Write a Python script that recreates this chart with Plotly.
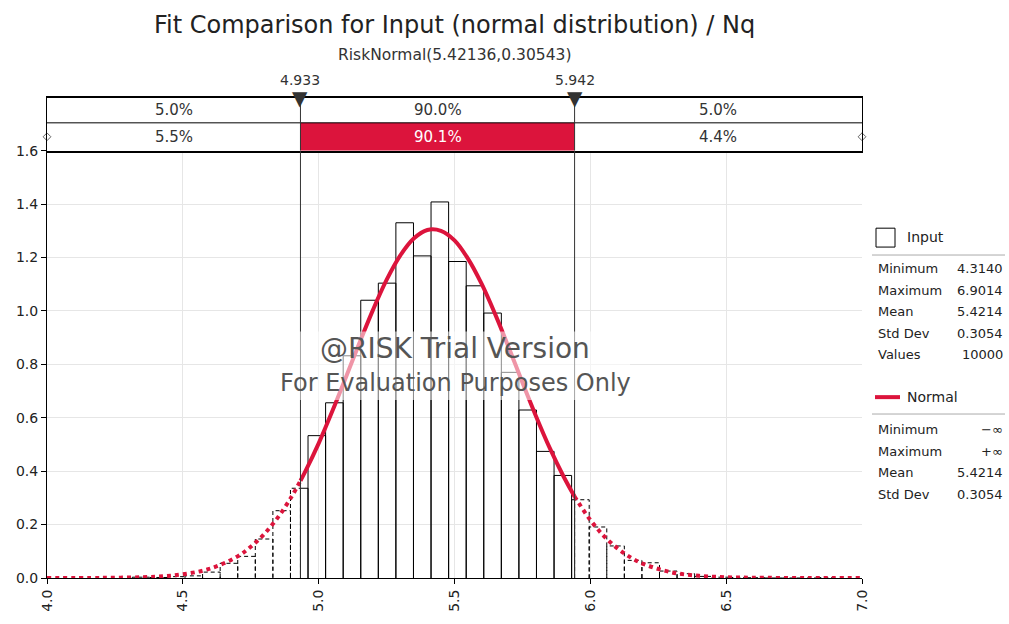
import numpy as np
import plotly.graph_objects as go

# ---------------- data ----------------
TITLE = "Fit Comparison for Input (normal distribution) / Nq"
SUBTITLE = "RiskNormal(5.42136,0.30543)"

HIST_MIN = 4.3140
HIST_MAX = 6.9014
# histogram densities (40 equal-width bins between HIST_MIN and HIST_MAX)
density = [0.003, 0.002, 0.005, 0.008, 0.022, 0.055, 0.081, 0.146, 0.252, 0.336,
           0.533, 0.656, 0.832, 1.040, 1.104, 1.330, 1.206, 1.408, 1.185, 1.094,
           0.992, 0.770, 0.629, 0.474, 0.384, 0.293, 0.191, 0.120, 0.066, 0.057,
           0.026, 0.016, 0.006, 0.003, 0.002, 0.001, 0.0, 0.0, 0.0, 0.0015]

# fitted normal curve
curve_x = [4.0, 4.2, 4.4, 4.5, 4.6, 4.7, 4.75, 4.8, 4.85, 4.9,
           4.933, 4.95, 5.0, 5.05, 5.1, 5.15, 5.2, 5.25, 5.3, 5.35,
           5.4, 5.45, 5.5, 5.55, 5.6, 5.65, 5.7, 5.75, 5.8, 5.85,
           5.9, 5.942, 5.95, 6.0, 6.05, 6.1, 6.15, 6.2, 6.3, 6.4,
           6.5, 6.6, 6.8, 7.0]
curve_y = [0.000, 0.0004, 0.005, 0.014, 0.035, 0.080, 0.117, 0.165, 0.227, 0.304,
           0.364, 0.397, 0.504, 0.624, 0.751, 0.880, 1.004, 1.116, 1.207, 1.271,
           1.303, 1.300, 1.264, 1.195, 1.101, 0.987, 0.862, 0.732, 0.606, 0.488,
           0.383, 0.305, 0.292, 0.217, 0.157, 0.111, 0.076, 0.051, 0.021, 0.008,
           0.003, 0.001, 0.0001, 0.000]

cutoffs = [4.933, 5.942]
theo_pct = [5.0, 90.0, 5.0]
input_pct = [5.5, 90.1, 4.4]

x_ticks = [4.0, 4.5, 5.0, 5.5, 6.0, 6.5, 7.0]
y_ticks = [0.0, 0.2, 0.4, 0.6, 0.8, 1.0, 1.2, 1.4, 1.6]

input_stats = [("Minimum", "4.3140"), ("Maximum", "6.9014"), ("Mean", "5.4214"),
               ("Std Dev", "0.3054"), ("Values", "10000")]
normal_stats = [("Minimum", "\u2212\u221e"), ("Maximum", "+\u221e"),
                ("Mean", "5.4214"), ("Std Dev", "0.3054")]

# ---------------- styling / layout helpers ----------------
FONT = "'DejaVu Sans', sans-serif"
RED = "#DC143C"
W, H = 1009, 624
L, R_EDGE, TOP, BOT = 47, 862, 98, 581
BAND_BOTTOM = 151
MAIN_TOP_FRAC = (BOT - BAND_BOTTOM) / (BOT - TOP)
BAND_H = BAND_BOTTOM - TOP
ROW_SPLIT = BAND_BOTTOM - 123


def px(x):
    return (x - L) / (R_EDGE - L)


def py(y):
    return (BOT - y) / (BOT - TOP)


fig = go.Figure()

# ---------------- histogram outlines ----------------
edges = np.linspace(HIST_MIN, HIST_MAX, len(density) + 1)
lo, hi = cutoffs
sx, sy, dx, dy = [], [], [], []
for i, h in enumerate(density):
    a, b = edges[i], edges[i + 1]
    pts = [a] + [c for c in cutoffs if a < c < b] + [b]
    for p, q in zip(pts[:-1], pts[1:]):
        inside = p >= lo - 1e-9 and q <= hi + 1e-9
        tx, ty = (sx, sy) if inside else (dx, dy)
        tx += [p, p, q, q, None]
        ty += [0, h, h, 0, None]

fig.add_trace(go.Scatter(x=dx, y=dy, mode="lines", hoverinfo="skip",
                         line=dict(color="black", width=1, dash="4px,3px"),
                         showlegend=False))
fig.add_trace(go.Scatter(x=sx, y=sy, mode="lines", hoverinfo="skip",
                         line=dict(color="black", width=1),
                         showlegend=False))

# ---------------- normal curve ----------------
cx = np.array(curve_x)
cy = np.array(curve_y)
m_left = cx <= lo + 1e-9
m_mid = (cx >= lo - 1e-9) & (cx <= hi + 1e-9)
m_right = cx >= hi - 1e-9
for m, dash in [(m_left, "dot"), (m_right, "dot"), (m_mid, "solid")]:
    fig.add_trace(go.Scatter(x=cx[m], y=cy[m], mode="lines", line_shape="spline",
                             line=dict(color=RED, width=4, dash=dash),
                             hoverinfo="skip", showlegend=False))

# ---------------- band (percentile bars) ----------------
fig.add_trace(go.Scatter(x=[x_ticks[0], x_ticks[-1]], y=[ROW_SPLIT / 2] * 2, mode="markers",
                         marker=dict(symbol="diamond-open", size=6, color="#666",
                                     line=dict(width=1)),
                         xaxis="x2", yaxis="y2", cliponaxis=False,
                         hoverinfo="skip", showlegend=False))

shapes = []
shapes.append(dict(type="rect", xref="x2", yref="y2", x0=lo, x1=hi, y0=0, y1=ROW_SPLIT,
                   fillcolor=RED, line=dict(width=0), layer="below"))
shapes.append(dict(type="line", xref="x2", yref="y2", x0=x_ticks[0], x1=x_ticks[-1],
                   y0=ROW_SPLIT, y1=ROW_SPLIT, line=dict(color="black", width=1)))
for c in cutoffs:
    shapes.append(dict(type="line", xref="x2", yref="y2", x0=c, x1=c, y0=0, y1=BAND_H,
                       line=dict(color="#333", width=1)))
    shapes.append(dict(type="line", xref="x", yref="y", x0=c, x1=c, y0=0, y1=1.6,
                       line=dict(color="#333", width=1)))


def ann(x, y, text, size, color="#222", xanchor="center", xref="paper", yref="paper",
        yanchor="middle"):
    return dict(x=x, y=y, xref=xref, yref=yref, text=text, showarrow=False,
                xanchor=xanchor, yanchor=yanchor,
                font=dict(family=FONT, size=size, color=color))


annotations = []
regions = [(x_ticks[0], lo), (lo, hi), (hi, x_ticks[-1])]
for (a, b), tp, ip, k in zip(regions, theo_pct, input_pct, range(3)):
    mid = (a + b) / 2
    annotations.append(ann(mid, (ROW_SPLIT + BAND_H) / 2, f"{tp:.1f}%", 15, "#333",
                           xref="x2", yref="y2"))
    annotations.append(ann(mid, ROW_SPLIT / 2, f"{ip:.1f}%", 15,
                           "white" if k == 1 else "#333", xref="x2", yref="y2"))
for c in cutoffs:
    # cutoff value label and downward marker above the band
    annotations.append(ann(c, py(80), f"{c:.3f}", 14, "#333", xref="x2"))
    annotations.append(ann(c, py(98), "\u25BC", 20, "#333", xref="x2"))

# title & subtitle
annotations.append(ann(0.5, py(25), TITLE, 24))
annotations.append(ann(0.5, py(55), SUBTITLE, 15.5, "#333"))

# watermark
shapes.append(dict(type="rect", xref="paper", yref="paper", x0=px(280), x1=px(630),
                   y0=py(402), y1=py(333), fillcolor="rgba(255,255,255,0.55)",
                   line=dict(width=0), layer="above"))
annotations.append(ann(px(455), py(350), "@RISK Trial Version", 28, "#555"))
annotations.append(ann(px(455), py(385), "For Evaluation Purposes Only", 24, "#555"))

# legend panel
shapes.append(dict(type="rect", xref="paper", yref="paper", x0=px(876), x1=px(895),
                   y0=py(248), y1=py(229), line=dict(color="black", width=1)))
annotations.append(ann(px(905), py(238), "Input", 14, xanchor="left"))
shapes.append(dict(type="line", xref="paper", yref="paper", x0=px(872), x1=px(1005),
                   y0=py(256), y1=py(256), line=dict(color="#aaa", width=1)))
for j, (lab, val) in enumerate(input_stats):
    yy = py(270 + j * 21.5)
    annotations.append(ann(px(876), yy, lab, 13, xanchor="left"))
    annotations.append(ann(px(1005), yy, val, 13, xanchor="right"))

shapes.append(dict(type="line", xref="paper", yref="paper", x0=px(875), x1=px(900),
                   y0=py(399), y1=py(399), line=dict(color=RED, width=4)))
annotations.append(ann(px(905), py(399), "Normal", 14, xanchor="left"))
shapes.append(dict(type="line", xref="paper", yref="paper", x0=px(872), x1=px(1005),
                   y0=py(416), y1=py(416), line=dict(color="#aaa", width=1)))
for j, (lab, val) in enumerate(normal_stats):
    yy = py(432 + j * 21.5)
    annotations.append(ann(px(876), yy, lab, 13, xanchor="left"))
    annotations.append(ann(px(1005), yy, val, 13, xanchor="right"))

fig.update_layout(
    width=W, height=H,
    margin=dict(l=L, r=W - R_EDGE, t=TOP, b=H - BOT),
    paper_bgcolor="white", plot_bgcolor="white",
    showlegend=False,
    font=dict(family=FONT, color="#222"),
    shapes=shapes, annotations=annotations,
    xaxis=dict(range=[x_ticks[0], x_ticks[-1]], tickvals=x_ticks,
               ticktext=[f"{v:.1f}" for v in x_ticks], tickangle=-90,
               showgrid=True, gridcolor="#e6e6e6", gridwidth=1,
               showline=True, linecolor="black", linewidth=1,
               ticks="outside", ticklen=5, tickcolor="black",
               tickfont=dict(family=FONT, size=14, color="#222"),
               zeroline=False, anchor="y"),
    yaxis=dict(domain=[0, MAIN_TOP_FRAC], range=[0, 1.6], tickvals=y_ticks,
               ticktext=[f"{v:.1f}" for v in y_ticks],
               showgrid=True, gridcolor="#e6e6e6", gridwidth=1,
               showline=True, linecolor="black", linewidth=1,
               ticks="outside", ticklen=5, tickcolor="black",
               tickfont=dict(family=FONT, size=14, color="#222"),
               zeroline=False, anchor="x"),
    xaxis2=dict(range=[x_ticks[0], x_ticks[-1]], anchor="y2", domain=[0, 1],
                showline=True, mirror=True, linecolor="black", linewidth=1.5,
                showticklabels=False, showgrid=False, zeroline=False, ticks=""),
    yaxis2=dict(domain=[MAIN_TOP_FRAC, 1], range=[0, BAND_H], anchor="x2",
                showline=True, mirror=True, linecolor="black", linewidth=1,
                showticklabels=False, showgrid=False, zeroline=False, ticks=""),
)

fig.write_html("out.html", config={"displayModeBar": False},
               post_script="document.body.style.margin='0';")
